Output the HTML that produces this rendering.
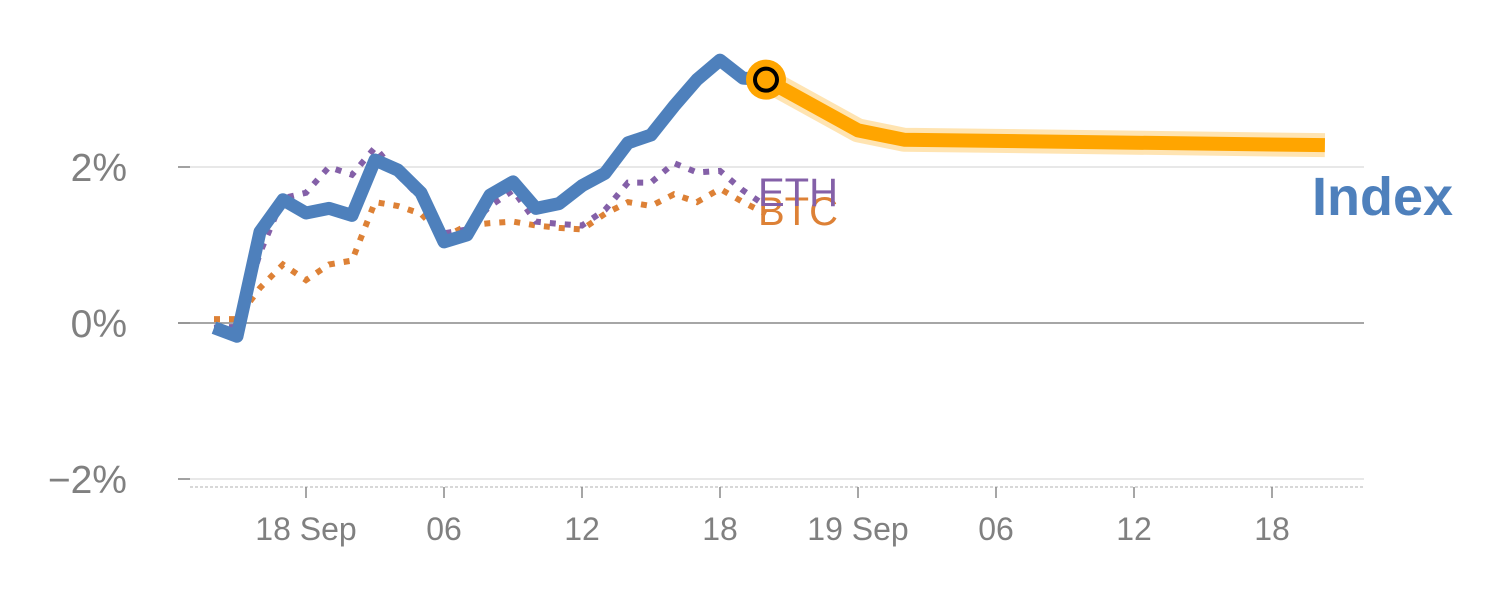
<!DOCTYPE html>
<html><head><meta charset="utf-8"><style>body{margin:0;background:#fff}svg{display:block;font-family:"Liberation Sans",sans-serif}</style></head>
<body>
<svg id="c" width="1500" height="600"></svg>
<script>
const idxHours=[-4,-3,-2,-1,0,1,2,3,4,5,6,7,8,9,10,11,12,13,14,15,16,17,18,19,20];
const indexVals=[-0.06,-0.17,1.17,1.58,1.41,1.47,1.38,2.09,1.96,1.67,1.04,1.13,1.64,1.81,1.47,1.53,1.76,1.92,2.31,2.41,2.78,3.12,3.37,3.14,3.12];
const ethVals=[-0.06,-0.05,0.9,1.6,1.67,2.0,1.9,2.25,1.9,1.6,1.15,1.2,1.5,1.7,1.3,1.27,1.25,1.45,1.8,1.8,2.05,1.93,1.95,1.7,1.5];
const btcVals=[0.05,0.05,0.45,0.75,0.55,0.75,0.8,1.55,1.5,1.4,1.1,1.25,1.28,1.3,1.25,1.22,1.2,1.4,1.55,1.5,1.65,1.55,1.72,1.55,1.4];
const fcHours=[20,24,26,44.3];
const fcVals=[3.12,2.47,2.35,2.28];
const yTicks=[2,0,-2];
const yTickLabels=["2%","0%","\u22122%"];
const xTicks=[0,6,12,18,24,30,36,42];
const xTickLabels=["18 Sep","06","12","18","19 Sep","06","12","18"];
const X=h=>306+23*h, Y=v=>323-78*v;
const s=document.getElementById('c'),NS="http://www.w3.org/2000/svg";
function el(t,a,txt){const e=document.createElementNS(NS,t);for(const k in a)e.setAttribute(k,a[k]);if(txt!=null)e.textContent=txt;s.appendChild(e);return e;}
yTicks.forEach((v,i)=>{
 const g=el('line',{x1:178,x2:1364,y1:Y(v),y2:Y(v),stroke:v===0?'#888':'#e0e0e0','stroke-width':1.5});
 
 const t=el('line',{x1:178,x2:190,y1:Y(v),y2:Y(v),stroke:'#888','stroke-width':1.5});
 
 const l=el('text',{x:127,y:Y(v)+14,'text-anchor':'end','font-size':39,fill:'#808080'},yTickLabels[i]);
 
});
const ax=el('line',{x1:190,x2:1364,y1:487,y2:487,stroke:'#ccc','stroke-width':1.5,'stroke-dasharray':'3,2'});

xTicks.forEach((h,i)=>{
 const t=el('line',{x1:X(h),x2:X(h),y1:487,y2:498,stroke:'#888','stroke-width':1.5});
 
 const l=el('text',{x:X(h),y:540,'text-anchor':'middle','font-size':32,fill:'#808080'},xTickLabels[i]);
 
});
const pts=(hs,vs)=>hs.map((h,i)=>X(h)+','+Y(vs[i])).join(' ');
const b=el('polyline',{points:pts(idxHours,btcVals),fill:'none',stroke:'#dd8136','stroke-width':6,'stroke-dasharray':'6,9'});

const e=el('polyline',{points:pts(idxHours,ethVals),fill:'none',stroke:'#8460a8','stroke-width':6,'stroke-dasharray':'6,9'});

const ix=el('polyline',{points:pts(idxHours,indexVals),fill:'none',stroke:'#4e80bc','stroke-width':13,'stroke-linejoin':'round'});

const f1=el('polyline',{points:pts(fcHours,fcVals),fill:'none',stroke:'#ffa500','stroke-opacity':0.3,'stroke-width':24,'stroke-linejoin':'round'});

const f2=el('polyline',{points:pts(fcHours,fcVals),fill:'none',stroke:'#ffa500','stroke-width':14,'stroke-linejoin':'round'});

const m1=el('circle',{cx:X(fcHours[0]),cy:Y(fcVals[0]),r:20,fill:'#ffa500'});

const m2=el('circle',{cx:X(fcHours[0]),cy:Y(fcVals[0]),r:11,fill:'#ffa500',stroke:'#000','stroke-width':4});

const lb=el('text',{x:758,y:225,'font-size':40,fill:'#dd8136'},'BTC');

const le=el('text',{x:758,y:206,'font-size':40,fill:'#8460a8'},'ETH');

const li=el('text',{x:1312,y:215,'font-size':54,'font-weight':'bold',fill:'#4e80bc'},'Index');

</script>
</body></html>
